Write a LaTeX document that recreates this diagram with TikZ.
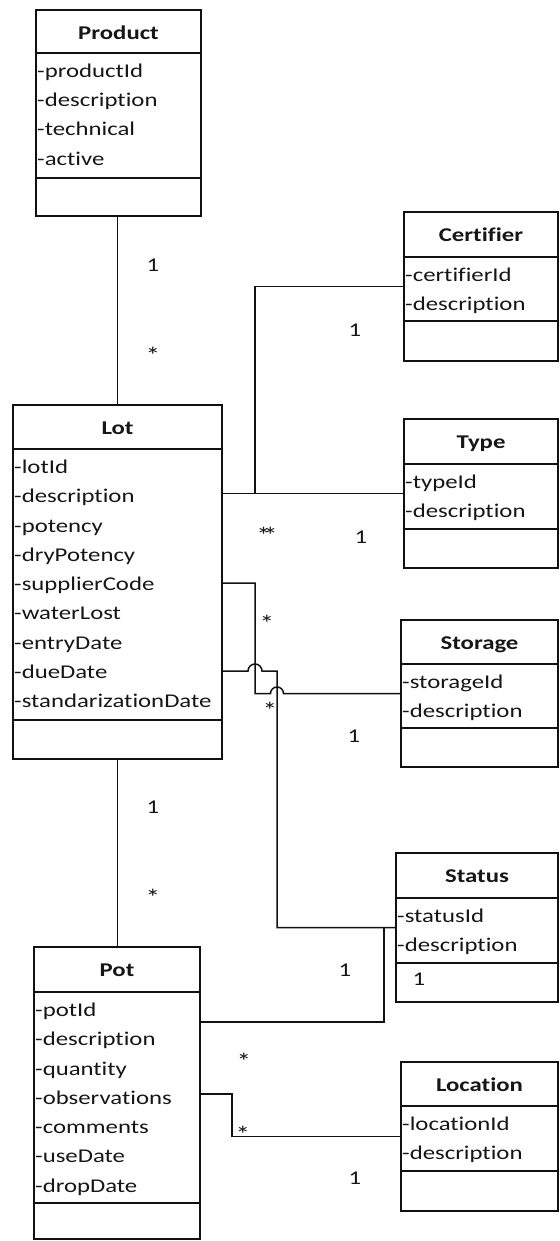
\documentclass[tikz,border=0pt]{standalone}
\usepackage{fontspec}
\setmainfont{Carlito}[FakeStretch=1.27, Ligatures={NoCommon}]
\definecolor{linecol}{HTML}{111111}
\definecolor{txtcol}{HTML}{161616}
\tikzset{
  classbox/.style={draw=linecol, line width=1.6pt, inner sep=0pt, outer sep=0pt},
  sepline/.style={draw=linecol, line width=1.6pt},
  conn/.style={draw=linecol, line width=1.5pt},
  titletext/.style={font=\fontsize{19.5}{29.25}\selectfont\bfseries, text=txtcol, inner sep=0pt, anchor=base},
  attrtext/.style={font=\fontsize{19.5}{29.25}\selectfont, text=txtcol, inner sep=0pt, anchor=base west},
  mult/.style={font=\fontsize{19.5}{29.25}\selectfont, text=txtcol, inner sep=0pt, anchor=base},
  star/.style={font=\fontsize{23}{29.25}\selectfont, text=txtcol, inner sep=0pt, anchor=base}
}
% #1 name, #2 title, #3 left, #4 top, #5 right, #6 bottom, #7 title sep, #8 attr sep, #9 attributes
\newcommand{\umlclass}[9]{%
  \node[classbox, minimum width={#5pt-#3pt}, minimum height={#6pt-#4pt}] (#1) at ({(#3+#5)/2},{(#4+#6)/2}) {};
  \node[titletext] (#1-title) at ({(#3+#5)/2},{#4+29.5}) {#2};
  \draw[sepline] (#3,#7) -- (#5,#7);
  \draw[sepline] (#3,#8) -- (#5,#8);
  \foreach \a [count=\i from 0] in {#9} \node[attrtext] (#1-a\i) at ({#3+1},{#7+24.5+29.25*\i}) {\a};
}
\begin{document}
\begin{tikzpicture}[x=1pt,y=-1pt]
\useasboundingbox[fill=white] (0,0) rectangle (559,1241);

\umlclass{product}{Product}{36}{10}{201}{216}{53}{178}{-productId,-description,-technical,-active}
\umlclass{lot}{Lot}{13}{405}{222}{759}{449}{720}{-lotId,-description,-potency,-dryPotency,-supplierCode,-waterLost,-entryDate,-dueDate,-standarizationDate}
\umlclass{pot}{Pot}{34}{947}{200}{1239}{992}{1203}{-potId,-description,-quantity,-observations,-comments,-useDate,-dropDate}
\umlclass{certifier}{Certifier}{404}{212}{558}{361}{257}{321}{-certifierId,-description}
\umlclass{type}{Type}{404}{419}{558}{568}{464}{529}{-typeId,-description}
\umlclass{storage}{Storage}{401}{620}{558}{767}{664}{728}{-storageId,-description}
\umlclass{status}{Status}{396}{853}{558}{1002}{898}{963}{-statusId,-description}
\umlclass{location}{Location}{401}{1062}{558}{1211}{1106}{1171}{-locationId,-description}

\coordinate (jtype) at (255,493.5);
\coordinate (jstatus) at (384,927.5);

% Product - Lot
\draw[conn] (lot.north |- product.south) -- (lot.north);
% Lot - Pot
\draw[conn] (lot.south) -- (lot.south |- pot.north);
% Lot - Type
\draw[conn] (lot.east |- type.west) -- (type.west);
% Certifier - Lot/Type line
\draw[conn] (certifier.west) -- (255,286.5) -- (jtype);
% Lot - Storage (hop over x=277)
\draw[conn] (lot.east |- 0,583) -- (255,583) -- (255,693.5) -- (270.5,693.5)
  arc[start angle=180, end angle=0, radius=6.5pt] -- (storage.west);
% Lot - Status (hop over x=255)
\draw[conn] (lot.east |- 0,671) -- (248,671)
  arc[start angle=180, end angle=0, radius=7pt] -- (277,671) -- (277,927.5) -- (status.west);
% Pot - Status
\draw[conn] (pot.east |- 0,1022) -- (384,1022) -- (jstatus);
% Pot - Location
\draw[conn] (pot.east |- 0,1094) -- (232,1094) -- (232,1136.5) -- (location.west);

% multiplicities
\node[mult] (m1) at (153,271.5) {1};
\node[star] (m2) at (153,363) {*};
\node[mult] (m3) at (355,336.5) {1};
\node[star] (m4) at (267,543) {*\kern-8pt*};
\node[mult] (m5) at (361,543.5) {1};
\node[star] (m6) at (267,631) {*};
\node[star] (m7) at (270,718) {*};
\node[mult] (m8) at (354,742.5) {1};
\node[mult] (m9) at (153,813.5) {1};
\node[star] (m10) at (153,905) {*};
\node[mult] (m11) at (345,976.5) {1};
\node[mult] (m12) at (419,985.5) {1};
\node[star] (m13) at (244,1069) {*};
\node[star] (m14) at (243,1142) {*};
\node[mult] (m15) at (355,1184.5) {1};
\end{tikzpicture}
\end{document}
